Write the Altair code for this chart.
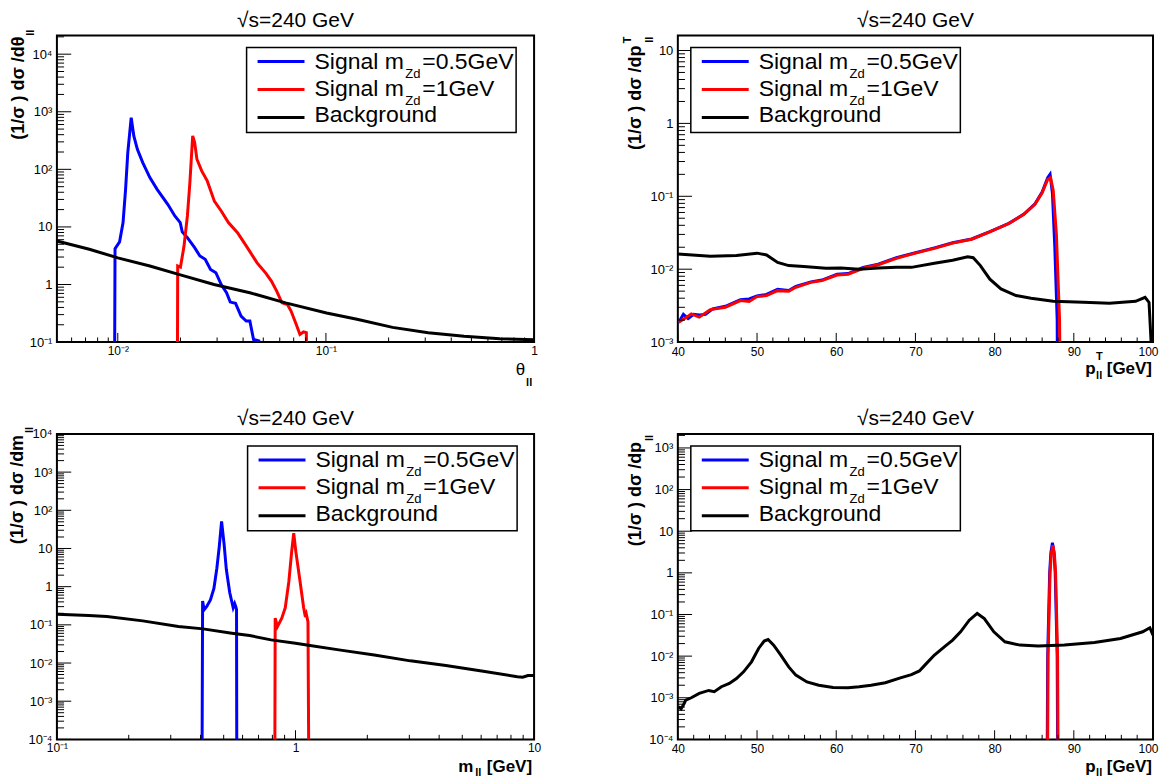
import math
import altair as alt
import pandas as pd

FONT = "Liberation Sans"
BLUE, RED, BLACK = "#0000ff", "#ff0000", "#000000"
PANEL_TITLE = "√s=240 GeV"
LEGEND_ROWS = [(BLUE, "Signal m", "Zd", "=0.5GeV"),
               (RED, "Signal m", "Zd", "=1GeV"),
               (BLACK, "Background", "", "")]

# ---------------- panel 1 : theta_ll ----------------
th_sig05_x = [0.00962, 0.0097, 0.0102, 0.0106, 0.0109, 0.01117, 0.0116, 0.01194, 0.01242, 0.01318,
              0.01426, 0.01545, 0.01738, 0.0188, 0.01995, 0.0204, 0.0216, 0.0234, 0.0248, 0.0263,
              0.0279, 0.0296, 0.0314, 0.0333, 0.0347, 0.0368, 0.0391, 0.0414, 0.0431, 0.0449,
              0.0476, 0.0486]
th_sig05_y = [1e-3, 4.2, 5.5, 11.9, 45, 195, 790, 381, 223, 131,
              71.8, 45, 24.7, 15.5, 11.9, 8.2, 6.5, 4.36, 3.13, 2.74,
              1.83, 1.6, 1.0, 0.72, 0.495, 0.47, 0.283, 0.232, 0.232, 0.111,
              0.105, 1e-3]
th_sig1_x = [0.0193, 0.0194, 0.0200, 0.0208, 0.0216, 0.0222, 0.0229, 0.0234, 0.024, 0.0253,
             0.0269, 0.0291, 0.0314, 0.034, 0.0376, 0.0414, 0.0466, 0.0515, 0.0547, 0.058,
             0.0615, 0.0653, 0.068, 0.0721, 0.075, 0.078, 0.0805, 0.0818]
th_sig1_y = [1e-3, 2.1, 2.0, 4.6, 15.5, 58.8, 381, 292, 150, 94,
             63, 28, 18.9, 11.9, 7.96, 4.7, 2.4, 1.56, 1.15, 0.77,
             0.48, 0.45, 0.346, 0.2, 0.136, 0.15, 0.146, 1e-3]
th_bkg_x = [0.0051, 0.0073, 0.01, 0.01426, 0.0196, 0.029, 0.0431, 0.064, 0.1007, 0.141,
            0.209, 0.31, 0.461, 0.684, 1.0]
th_bkg_y = [5.7, 4.1, 2.9, 2.1, 1.5, 1.0, 0.72, 0.48, 0.32, 0.25,
            0.18, 0.145, 0.126, 0.114, 0.11]

# ---------------- panel 2 : pT_ll ----------------
pt_sig05_x = [40.1, 40.7, 41.3, 42.0, 42.7, 43.5, 44.4, 46.0, 47.9, 49.0,
              50.0, 51.2, 52.6, 54.0, 54.9, 56.8, 58.2, 60.1, 61.5, 63.4,
              65.3, 67.6, 70.0, 72.4, 74.7, 77.1, 79.4, 81.8, 83.7, 85.1,
              86.0, 86.7, 87.0, 87.3, 87.6, 87.9, 88.0]
pt_sig05_y = [0.00185, 0.0024, 0.0021, 0.0024, 0.00235, 0.0024, 0.00285, 0.0031, 0.0038, 0.0039,
              0.0043, 0.0045, 0.0053, 0.0051, 0.0058, 0.0067, 0.0071, 0.0085, 0.0087, 0.0106,
              0.0117, 0.0144, 0.0168, 0.0196, 0.023, 0.026, 0.0328, 0.0425, 0.057, 0.079,
              0.114, 0.18, 0.2, 0.11, 0.02, 0.002, 1e-5]
pt_sig1_x = [40.1, 41.0, 41.7, 42.7, 44.1, 46.0, 47.9, 49.0, 50.0, 51.2,
             52.6, 54.0, 54.9, 56.8, 58.2, 60.1, 61.5, 63.4, 65.3, 67.6,
             70.0, 72.4, 74.7, 77.1, 79.4, 81.8, 83.7, 85.1, 86.0, 86.7,
             87.06, 87.4, 87.8, 88.2, 88.4]
pt_sig1_y = [0.00188, 0.00215, 0.00244, 0.0022, 0.00279, 0.00301, 0.00371, 0.0036, 0.00421, 0.00434,
             0.00508, 0.00498, 0.00565, 0.0066, 0.00697, 0.00832, 0.0085, 0.0103, 0.0115, 0.0141,
             0.0166, 0.0193, 0.0228, 0.0258, 0.0326, 0.0423, 0.0567, 0.0778, 0.112, 0.17,
             0.18, 0.12, 0.03, 0.002, 1e-5]
pt_bkg_x = [40, 44.1, 47.4, 50, 51.2, 52.6, 54, 55.9, 58.7, 60.6,
            62.9, 65.3, 67.6, 69.5, 72.4, 74.7, 76.6, 77.3, 78.2, 79.4,
            80.8, 82.7, 84.6, 87.4, 91.2, 94.5, 97.8, 99.0, 99.5, 99.9]
pt_bkg_y = [0.0161, 0.0150, 0.0154, 0.0166, 0.0157, 0.0124, 0.0112, 0.0109, 0.0103, 0.0104,
            0.0100, 0.0104, 0.0106, 0.0106, 0.0121, 0.0133, 0.0148, 0.0144, 0.0112, 0.0073,
            0.00536, 0.00435, 0.0040, 0.00363, 0.00352, 0.00341, 0.00363, 0.00412, 0.0035, 0.0005]

# ---------------- panel 3 : m_ll ----------------
m_sig05_x = [0.405, 0.408, 0.414, 0.424, 0.44, 0.455, 0.468, 0.479, 0.49, 0.502,
             0.513, 0.53, 0.548, 0.556, 0.562, 0.566, 0.568]
m_sig05_y = [1e-6, 0.42, 0.25, 0.3, 0.45, 0.9, 3.0, 11, 51, 13,
             2.8, 0.7, 0.28, 0.36, 0.3, 0.25, 1e-6]
m_sig1_x = [0.818, 0.822, 0.84, 0.876, 0.906, 0.938, 0.964, 0.983, 1.003, 1.045,
            1.082, 1.1, 1.11, 1.128, 1.14]
m_sig1_y = [1e-6, 0.15, 0.09, 0.15, 0.28, 1.37, 8.4, 25, 8.4, 1.37,
            0.28, 0.16, 0.19, 0.12, 1e-6]
m_bkg_x = [0.1, 0.136, 0.162, 0.229, 0.323, 0.41, 0.541, 0.642, 0.79, 1.0,
           1.15, 1.52, 2.14, 3.03, 4.27, 6.03, 8.51, 8.96, 9.43, 10]
m_bkg_y = [0.19, 0.176, 0.166, 0.127, 0.0904, 0.0785, 0.0604, 0.0525, 0.0404, 0.033,
           0.0287, 0.0221, 0.0163, 0.0114, 0.0086, 0.0062, 0.0044, 0.00424, 0.0047, 0.0047]

# ---------------- panel 4 : p_ll ----------------
p_sig05_x = [86.58, 86.65, 86.7, 86.95, 87.1, 87.3, 87.5, 87.65, 87.9, 87.95, 88.02]
p_sig05_y = [1e-6, 1e-4, 0.01, 1.0, 3.0, 5.3, 3.0, 1.0, 0.01, 1e-4, 1e-6]
p_sig1_x = [86.63, 86.7, 86.75, 87.0, 87.15, 87.35, 87.55, 87.7, 87.95, 88.0, 88.07]
p_sig1_y = [1e-6, 1e-4, 0.01, 1.0, 2.8, 4.6, 2.8, 1.0, 0.01, 1e-4, 1e-6]
p_bkg_x = [40.1, 40.4, 40.8, 41.0, 41.7, 42.7, 43.9, 44.6, 45.5, 46.5,
           47.4, 48.3, 49.3, 50.2, 50.9, 51.4, 52.1, 53.0, 54.0, 54.9,
           56.3, 57.8, 59.6, 61.5, 62.9, 64.4, 66.2, 68.1, 69.5, 70.5,
           71.4, 72.4, 73.8, 74.7, 75.7, 76.8, 77.8, 78.7, 79.9, 81.3,
           83.2, 85.5, 88.8, 92.6, 95.9, 98.7, 99.6, 100]
p_bkg_y = [0.00061, 0.00054, 0.00073, 0.00088, 0.001, 0.00127, 0.0015, 0.0014, 0.00184, 0.0022,
           0.0029, 0.0042, 0.0073, 0.0153, 0.023, 0.0251, 0.0184, 0.0106, 0.0055, 0.0035,
           0.0024, 0.002, 0.00177, 0.00175, 0.00184, 0.002, 0.00229, 0.003, 0.0036, 0.0044,
           0.0067, 0.0106, 0.0177, 0.0242, 0.0384, 0.073, 0.106, 0.08, 0.0384, 0.0221,
           0.0184, 0.0176, 0.0184, 0.0213, 0.0265, 0.0384, 0.048, 0.032]

# ---------------- axis ticks / labels ----------------
SUP = str.maketrans("-0123456789", "⁻⁰¹²³⁴⁵⁶⁷⁸⁹")
DUMMY = pd.DataFrame({"d": [0]})


def pow_text(e):
    if e == 0:
        return "1"
    if e == 1:
        return "10"
    return "10" + str(e).translate(SUP)


def label_expr(values, texts):
    expr = "''"
    for v, t in reversed(list(zip(values, texts))):
        expr = f"abs(datum.value - {v!r}) < {abs(v) * 1e-3!r} ? '{t}' : ({expr})"
    return expr


def log_major(lo, hi):
    out = []
    for e in range(math.floor(math.log10(lo)), math.ceil(math.log10(hi)) + 1):
        v = 10.0 ** e
        if lo * 0.999 <= v <= hi * 1.001:
            out.append(v)
    return out


def log_minor(lo, hi):
    out = []
    for e in range(math.floor(math.log10(lo)) - 1, math.ceil(math.log10(hi)) + 1):
        for m in range(2, 10):
            v = m * 10.0 ** e
            if lo <= v <= hi:
                out.append(v)
    return out


def log_axis(lo, hi, size, pad):
    vals = log_major(lo, hi)
    texts = [pow_text(round(math.log10(v))) for v in vals]
    return alt.Axis(values=vals, labelExpr=label_expr(vals, texts), ticks=False, tickSize=0,
                    domain=False, grid=False, labelFont=FONT, labelFontSize=size,
                    labelColor="black", labelPadding=pad, labelFlush=False, labelOverlap=False)


def lin_axis(vals, size):
    last = vals[-1]
    return alt.Axis(values=vals, format="d", ticks=False, tickSize=0, domain=False, grid=False,
                    labelFont=FONT, labelFontSize=size, labelColor="black", labelPadding=4,
                    labelFlush=False, labelOverlap=False,
                    labelAlign={"condition": {"test": f"datum.value >= {last}", "value": "right"},
                                "value": "center"},
                    labelOffset={"condition": {"test": f"datum.value >= {last}", "value": 5},
                                 "value": 0})


def txt(s, x, y, size, weight="normal", align="left", baseline="alphabetic", angle=0):
    props = dict(text=s, font=FONT, fontSize=size, fontWeight=weight, align=align,
                 baseline=baseline, color="black")
    if angle:
        props["angle"] = angle
    return alt.Chart(DUMMY).mark_text(**props).encode(x=alt.value(x), y=alt.value(y))


def legend(x0, y0=12):
    layers = [alt.Chart(DUMMY).mark_rect(fill="white", stroke="black", strokeWidth=1.5).encode(
        x=alt.value(x0), x2=alt.value(x0 + 270), y=alt.value(y0), y2=alt.value(y0 + 85))]
    for k, (col, main, sub, rest) in enumerate(LEGEND_ROWS):
        ly = y0 + 14 + 28 * k
        bl = y0 + 21 + 27 * k
        layers.append(alt.Chart(DUMMY).mark_rule(color=col, strokeWidth=3).encode(
            x=alt.value(x0 + 11), x2=alt.value(x0 + 58), y=alt.value(ly)))
        layers.append(txt(main, x0 + 68, bl, 23))
        if sub:
            layers.append(txt(sub, x0 + 159, bl + 9, 13))
            layers.append(txt(rest, x0 + 176, bl, 23))
    return layers


def panel(series, xs, ys, W, H, xaxis, yaxis, xmaj, xmin, ymaj, ymin, extra, legend_x0):
    layers = []
    for xv, yv, col in series:
        df = pd.DataFrame({"x": xv, "y": yv, "i": list(range(len(xv)))})
        layers.append(alt.Chart(df).mark_line(color=col, strokeWidth=3, clip=True).encode(
            x=alt.X("x:Q", scale=xs, axis=xaxis, title=None),
            y=alt.Y("y:Q", scale=ys, axis=yaxis, title=None),
            order=alt.Order("i:Q")))
    ylen, xlen = 0.03 * W, 0.03 * H
    for vals, ln in ((ymaj, ylen), (ymin, ylen / 2)):
        layers.append(alt.Chart(pd.DataFrame({"v": vals})).mark_rule(color="black", strokeWidth=1).encode(
            y=alt.Y("v:Q", scale=ys, axis=yaxis, title=None), x=alt.value(0), x2=alt.value(ln)))
    for vals, ln in ((xmaj, xlen), (xmin, xlen / 2)):
        layers.append(alt.Chart(pd.DataFrame({"v": vals})).mark_rule(color="black", strokeWidth=1).encode(
            x=alt.X("v:Q", scale=xs, axis=xaxis, title=None), y=alt.value(H), y2=alt.value(H - ln)))
    layers += legend(legend_x0)
    layers.append(txt(PANEL_TITLE, W / 2, -9, 21, align="center"))
    layers += extra
    return alt.layer(*layers).properties(width=W, height=H)


# ---- panel 1
W1, H1 = 478, 307
x1 = (0.0051, 1.0)
y1 = (0.1, 21000)
p1 = panel([(th_sig05_x, th_sig05_y, BLUE), (th_sig1_x, th_sig1_y, RED), (th_bkg_x, th_bkg_y, BLACK)],
           alt.Scale(type="log", domain=list(x1), nice=False),
           alt.Scale(type="log", domain=list(y1), nice=False),
           W1, H1, log_axis(*x1, 12, 3), log_axis(*y1, 13, 5),
           log_major(*x1), log_minor(*x1), log_major(*y1), log_minor(*y1),
           [txt("(1/σ ) dσ /dθ", -38, 1, 18, "bold", "right", "middle", 270),
            txt("ll", -26, -6, 11, "bold", "right", "middle", 270),
            txt("θ", W1 - 9, H1 + 33, 17, "normal", "right"),
            txt("ll", W1 - 8, H1 + 44, 11, "bold", "left")],
           190)

# ---- panel 2
W2, H2 = 476, 307
y2 = (0.001, 16)
p2 = panel([(pt_sig05_x, pt_sig05_y, BLUE), (pt_sig1_x, pt_sig1_y, RED), (pt_bkg_x, pt_bkg_y, BLACK)],
           alt.Scale(domain=[40, 100], nice=False, zero=False),
           alt.Scale(type="log", domain=list(y2), nice=False),
           W2, H2, lin_axis(list(range(40, 101, 10)), 12), log_axis(*y2, 13, 5),
           list(range(40, 101, 10)), [v for v in range(42, 100, 2) if v % 10],
           log_major(*y2), log_minor(*y2),
           [txt("(1/σ ) dσ /dp", -42, 10, 18, "bold", "right", "middle", 270),
            txt("T", -50, 1, 11, "bold", "right", "middle", 270),
            txt("ll", -28, 1, 11, "bold", "right", "middle", 270),
            txt("[GeV]", W2 - 1, H2 + 32, 17, "bold", "right"),
            txt("p", W2 - 68, H2 + 32, 17, "bold", "left"),
            txt("T", W2 - 57, H2 + 18, 11, "bold", "left"),
            txt("ll", W2 - 57, H2 + 37, 11, "bold", "left")],
           13)

# ---- panel 3
W3, H3 = 478, 306
x3 = (0.1, 10.0)
y3 = (1e-4, 1e4)
p3 = panel([(m_sig05_x, m_sig05_y, BLUE), (m_sig1_x, m_sig1_y, RED), (m_bkg_x, m_bkg_y, BLACK)],
           alt.Scale(type="log", domain=list(x3), nice=False),
           alt.Scale(type="log", domain=list(y3), nice=False),
           W3, H3, log_axis(*x3, 12, 3), log_axis(*y3, 13, 5),
           log_major(*x3), log_minor(*x3), log_major(*y3), log_minor(*y3),
           [txt("(1/σ ) dσ /dm", -39, 1, 18, "bold", "right", "middle", 270),
            txt("ll", -27, -7, 11, "bold", "right", "middle", 270),
            txt("[GeV]", W3 - 2, H3 + 33, 17, "bold", "right"),
            txt("m", W3 - 76, H3 + 33, 17, "bold", "left"),
            txt("ll", W3 - 59, H3 + 37, 11, "bold", "left")],
           191)

# ---- panel 4
W4, H4 = 476, 306
y4 = (1e-4, 2170)
p4 = panel([(p_sig05_x, p_sig05_y, BLUE), (p_sig1_x, p_sig1_y, RED), (p_bkg_x, p_bkg_y, BLACK)],
           alt.Scale(domain=[40, 100], nice=False, zero=False),
           alt.Scale(type="log", domain=list(y4), nice=False),
           W4, H4, lin_axis(list(range(40, 101, 10)), 12), log_axis(*y4, 13, 5),
           list(range(40, 101, 10)), [v for v in range(42, 100, 2) if v % 10],
           log_major(*y4), log_minor(*y4),
           [txt("(1/σ ) dσ /dp", -42, 8, 18, "bold", "right", "middle", 270),
            txt("ll", -28, 1, 11, "bold", "right", "middle", 270),
            txt("[GeV]", W4 - 1, H4 + 33, 17, "bold", "right"),
            txt("p", W4 - 68, H4 + 33, 17, "bold", "left"),
            txt("ll", W4 - 57, H4 + 37, 11, "bold", "left")],
           13)

chart = alt.concat(p1, p2, p3, p4, columns=2, bounds="flush",
                   spacing={"row": 92, "column": 144}).resolve_scale(
    x="independent", y="independent").configure_view(
    stroke="black", strokeWidth=2).properties(padding=0)

chart.save("out.html", embed_options={"renderer": "svg", "actions": False})
